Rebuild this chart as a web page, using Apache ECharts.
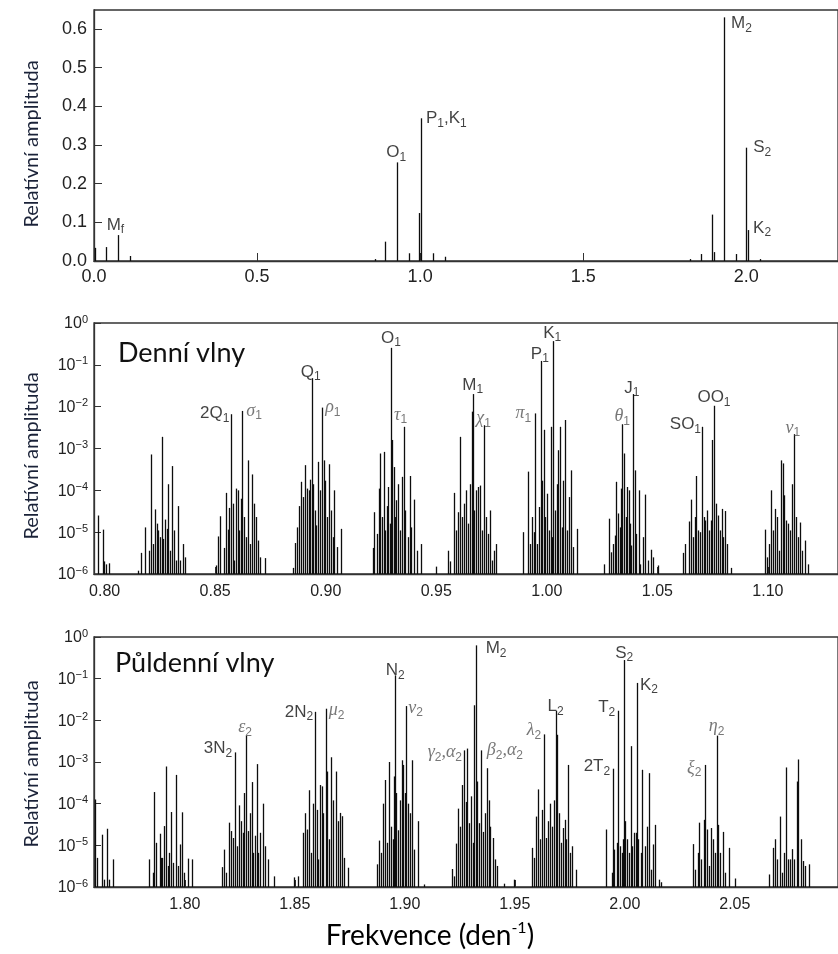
<!DOCTYPE html>
<html><head><meta charset="utf-8">
<script src="https://cdn.jsdelivr.net/npm/echarts@6/dist/echarts.min.js"></script>
<style>html,body{margin:0;padding:0;background:#fff}#c{width:838px;height:954px}</style>
</head><body><div id="c"></div><script>
// ---------- DATA ----------
// Top panel (linear amplitude)
const topFreq = [0.003,0.036,0.0725,0.109,0.861,0.893,0.9295,0.966,0.9973,1.0027,1.039,1.076,1.828,1.860,1.896,1.900,1.932,1.9685,2.000,2.0055,2.041];
const topAmp  = [0.034,0.036,0.067,0.013,0.005,0.05,0.255,0.02,0.124,0.369,0.02,0.011,0.005,0.018,0.12,0.023,0.63,0.018,0.293,0.08,0.005];
const topLabelText = ['M_f','O_1','P_1,K_1','M_2','S_2','K_2'];
const topLabelFreq = [0.0725,0.9295,1.0027,1.932,2.000,2.0055];
const topLabelAmp  = [0.067,0.255,0.369,0.63,0.293,0.08];
const topXTicks = [0,0.5,1.0,1.5,2.0];

// Middle panel: diurnal band (log amplitude)
const diurnalFreq = [
0.7970,0.7993,0.7997,0.8006,0.8021,
0.8152,0.8163,0.8181,0.8200,0.8209,0.8220,0.8229,0.8235,0.8241,0.8250,0.8259,0.8265,0.8274,0.8281,0.8286,0.8295,0.8306,0.8313,0.8322,0.8333,0.8340,0.8355,0.8363,
0.8504,0.8513,0.8522,0.8539,0.8548,0.8557,0.8563,0.8573,0.8581,0.8587,0.8594,0.8602,0.8609,0.8615,0.8623,0.8630,0.8638,0.8647,0.8656,0.8668,0.8675,0.8683,0.8693,0.8704,0.8725,
0.8850,0.8859,0.8868,0.8877,0.8887,0.8896,0.8905,0.8914,0.8923,0.8931,0.8937,0.8944,0.8950,0.8958,0.8966,0.8975,0.8984,0.8990,0.8999,0.9006,0.9015,0.9024,0.9032,0.9038,0.9050,0.9068,
0.9212,0.9220,0.9230,0.9239,0.9247,0.9256,0.9262,0.9269,0.9275,0.9283,0.9290,0.9295,0.9301,0.9308,0.9314,0.9320,0.9328,0.9335,0.9344,0.9352,0.9359,0.9370,0.9379,0.9388,0.9400,0.9411,0.9429,
0.9501,0.9555,0.9564,0.9580,0.9591,0.9600,0.9609,0.9618,0.9627,0.9635,0.9644,0.9653,0.9660,0.9665,0.9671,0.9680,0.9689,0.9698,0.9707,0.9714,0.9723,0.9732,0.9741,0.9752,0.9760,0.9769,
0.9892,0.9916,0.9926,0.9934,0.9941,0.9947,0.9955,0.9964,0.9973,0.9980,0.9988,0.9994,1.0001,1.0010,1.0018,1.0024,1.0029,1.0036,1.0044,1.0051,1.0059,1.0068,1.0075,1.0083,1.0090,1.0099,1.0110,1.0120,1.0135,
1.0257,1.0283,1.0290,1.0299,1.0307,1.0313,1.0322,1.0331,1.0337,1.0341,1.0349,1.0356,1.0362,1.0370,1.0377,1.0383,1.0389,1.0397,1.0404,1.0415,1.0423,1.0435,1.0445,1.0457,1.0472,1.0481,1.0501,
1.0616,1.0625,1.0645,1.0654,1.0662,1.0669,1.0677,1.0686,1.0693,1.0702,1.0710,1.0717,1.0726,1.0734,1.0741,1.0749,1.0756,1.0764,1.0773,1.0782,1.0791,1.0798,1.0807,1.0815,1.0833,
1.0986,1.0997,1.1006,1.1016,1.1025,1.1034,1.1043,1.1052,1.1061,1.1067,1.1075,1.1084,1.1093,1.1101,1.1110,1.1117,1.1126,1.1137,1.1146,1.1155,1.1168,1.1180];
const diurnalAmp = [
2.5e-5,1.15e-5,2.0e-6,1.7e-6,1.8e-6,
1.2e-6,3.2e-6,1.3e-5,3.6e-6,7.2e-4,5.2e-6,3.5e-5,1.6e-5,1.1e-5,7.6e-6,1.9e-3,6.9e-6,2.0e-5,1.2e-5,1.4e-4,3.6e-6,3.8e-4,1.1e-5,2.1e-6,4.2e-5,2.1e-6,5.2e-6,2.5e-6,
1.6e-6,7.9e-6,2.4e-5,4.2e-6,8.7e-5,1.15e-5,3.8e-5,6.6e-3,4.8e-5,2.1e-6,1.1e-4,1.0e-4,1.1e-5,6.3e-5,7.9e-3,2.3e-5,7.6e-6,5.2e-4,5.2e-6,2.4e-4,4.8e-5,2.3e-5,6.3e-6,2.5e-6,2.4e-6,
1.4e-6,5.5e-6,1.3e-5,4.2e-5,1.6e-4,6.9e-5,4.0e-4,1.1e-4,1.0e-4,1.8e-4,4.8e-2,1.4e-4,3.3e-5,1.45e-5,4.8e-4,1.0e-4,9.5e-3,5.2e-4,1.7e-4,2.3e-5,4.2e-4,3.3e-5,7.6e-6,1.0e-4,4.4e-6,1.2e-5,
4.2e-6,3.0e-5,9.1e-6,1.1e-4,7.6e-4,2.3e-5,8.3e-4,1.1e-5,4.2e-5,1.2e-4,1.6e-5,0.255,1.6e-3,3.6e-4,2.3e-5,5.8e-5,1.4e-4,1.1e-5,2.1e-4,3.3e-3,3.3e-5,7.6e-6,2.2e-4,1.3e-5,6.0e-5,3.6e-6,5.2e-6,
1.5e-6,3.6e-6,2.0e-6,8.7e-5,1.1e-5,3.0e-5,1.9e-3,2.3e-5,4.8e-5,1.0e-4,1.6e-5,1.4e-4,7.6e-3,2.0e-2,3.3e-5,1.0e-4,1.2e-4,1.3e-4,1.1e-5,3.6e-3,2.3e-5,9.1e-6,3.3e-5,2.1e-6,3.6e-6,5.2e-6,
1.0e-5,2.8e-4,5.2e-6,2.3e-5,1.0e-5,6.9e-3,5.2e-6,4.0e-5,0.124,1.7e-4,2.8e-3,2.3e-5,8.3e-5,1.1e-5,3.3e-3,7.6e-6,0.369,3.3e-5,1.4e-4,9.1e-4,3.3e-3,1.3e-5,1.7e-4,4.8e-3,1.1e-5,6.9e-5,3.0e-4,4.4e-6,1.2e-5,
1.7e-6,2.1e-5,3.3e-6,5.2e-6,8.3e-6,1.6e-4,2.8e-5,1.3e-5,1.1e-4,3.8e-3,7.6e-4,2.3e-5,1.2e-4,1.0e-4,1.6e-5,4.8e-6,2.0e-2,3.0e-4,9.1e-6,1.0e-4,1.7e-6,7.6e-6,7.9e-5,2.1e-6,3.8e-6,2.5e-6,1.6e-6,
3.2e-6,5.2e-6,1.8e-5,6.0e-5,7.6e-6,2.3e-5,2.2e-4,1.1e-5,1.0e-5,3.3e-3,2.3e-5,1.9e-5,3.3e-5,1.1e-5,1.9e-5,1.6e-3,1.05e-2,4.8e-5,2.5e-5,1.1e-5,3.6e-5,7.6e-6,3.2e-5,5.2e-6,1.4e-6,
1.15e-5,2.5e-6,5.2e-6,1.0e-4,1.1e-5,3.6e-5,2.3e-5,3.6e-6,5.2e-4,4.4e-4,7.6e-5,1.9e-5,1.6e-5,1.1e-5,1.4e-4,2.2e-3,2.3e-5,7.6e-6,1.7e-5,3.6e-6,6.3e-6,1.7e-6];
const diurnalLabelText = ['2Q_1','σ_1','Q_1','ρ_1','O_1','τ_1','M_1','χ_1','π_1','P_1','K_1','θ_1','J_1','SO_1','OO_1','ν_1'];
const diurnalLabelFreq = [0.8573,0.8623,0.8937,0.8984,0.9295,0.9352,0.9665,0.9714,0.9947,0.9973,1.0029,1.0341,1.0389,1.0702,1.0756,1.1117];
const diurnalLabelAmp  = [6.6e-3,7.9e-3,4.8e-2,9.5e-3,0.255,3.3e-3,2.0e-2,3.6e-3,6.9e-3,0.124,0.369,3.8e-3,2.0e-2,3.3e-3,1.05e-2,2.2e-3];

// Bottom panel: semidiurnal band (log amplitude)
const semiFreq = [
1.7592,1.7599,1.7625,1.7633,1.7648,1.7654,1.7673,
1.7837,1.7853,1.7862,1.7871,1.7885,1.7891,1.7898,1.7907,1.7915,1.7923,1.7930,1.7939,1.7947,1.7960,1.7968,1.7979,1.7988,1.7997,1.8016,1.8034,
1.8170,1.8178,1.8187,1.8199,1.8210,1.8219,1.8229,1.8237,1.8247,1.8255,1.8263,1.8270,1.8278,1.8285,1.8296,1.8303,1.8311,1.8318,1.8326,1.8334,1.8343,1.8355,1.8365,1.8377,1.8403,
1.8494,1.8513,1.8535,1.8544,1.8554,1.8565,1.8572,1.8581,1.8592,1.8600,1.8607,1.8615,1.8622,1.8630,1.8640,1.8648,1.8655,1.8666,1.8675,1.8687,1.8698,1.8705,1.8713,1.8725,1.8743,
1.8872,1.8881,1.8891,1.8900,1.8908,1.8917,1.8929,1.8937,1.8944,1.8950,1.8956,1.8962,1.8970,1.8977,1.8985,1.8993,1.9000,1.9006,1.9014,1.9023,1.9033,1.9042,1.9059,1.9089,
1.9215,1.9224,1.9234,1.9243,1.9252,1.9261,1.9269,1.9277,1.9284,1.9293,1.9301,1.9308,1.9314,1.9322,1.9329,1.9337,1.9345,1.9354,1.9363,1.9372,1.9381,1.9388,1.9399,1.9408,1.9419,1.9452,1.9496,
1.9577,1.9586,1.9597,1.9606,1.9615,1.9624,1.9633,1.9642,1.9651,1.9660,1.9668,1.9677,1.9685,1.9691,1.9700,1.9710,1.9718,1.9727,1.9734,1.9742,1.9749,1.9760,1.9778,
1.9914,1.9940,1.9947,1.9953,1.9963,1.9970,1.9978,1.9985,1.9991,1.9997,2.0003,2.0011,2.0018,2.0026,2.0034,2.0041,2.0049,2.0055,2.0062,2.0073,2.0080,2.0092,2.0102,2.0109,2.0117,2.0126,2.0136,2.0154,2.0165,
2.0310,2.0321,2.0331,2.0339,2.0348,2.0358,2.0366,2.0375,2.0384,2.0392,2.0399,2.0410,2.0417,2.0425,2.0434,2.0444,2.0455,2.0475,2.0500,
2.0656,2.0674,2.0683,2.0692,2.0704,2.0714,2.0723,2.0733,2.0742,2.0751,2.0760,2.0769,2.0781,2.0789,2.0801,2.0811,2.0821,2.0836];
const semiAmp = [
1.26e-4,5.0e-6,1.8e-5,1.5e-6,2.5e-5,1.5e-6,4.6e-6,
4.6e-6,2.2e-6,1.9e-4,1.15e-5,1.9e-5,5.0e-6,5.0e-6,2.9e-5,7.8e-4,3.2e-6,6.6e-6,6.3e-5,3.8e-6,4.9e-4,3.2e-6,1.05e-5,6.2e-5,2.2e-6,4.8e-6,4.6e-6,
3.0e-6,7.9e-6,2.2e-6,3.5e-5,2.2e-5,1.5e-5,1.7e-3,9.5e-6,9.1e-5,3.8e-5,2.0e-5,1.8e-4,4.3e-3,2.2e-5,5.9e-5,3.3e-4,6.6e-6,1.7e-5,8.9e-4,6.6e-6,2.0e-5,1.0e-4,9.5e-6,4.6e-6,1.8e-6,
1.7e-6,1.8e-6,2.0e-5,5.9e-5,2.4e-5,2.1e-4,6.6e-6,1.0e-4,1.6e-2,7.1e-5,4.6e-6,2.8e-4,2.6e-4,5.9e-5,1.9e-2,5.9e-4,1.4e-5,1.3e-3,1.2e-4,5.9e-4,3.8e-5,6.0e-5,5.0e-5,5.0e-6,2.9e-6,
3.5e-6,1.3e-5,6.6e-6,1.0e-4,3.7e-4,1.15e-5,1.0e-3,2.8e-5,1.4e-5,4.5e-4,0.12,1.8e-4,2.3e-5,1.2e-4,1.1e-3,8.5e-4,1.8e-4,2.2e-2,1.0e-4,5.9e-5,1.1e-3,7.9e-6,3.8e-5,1.15e-6,
2.7e-6,1.8e-6,1.1e-5,7.6e-5,2.8e-5,2.8e-4,1.9e-3,1.1e-4,2.1e-3,3.4e-5,1.5e-4,1.15e-5,2.3e-2,0.63,3.4e-4,3.4e-5,1.9e-3,2.1e-5,5.9e-5,7.1e-4,1.2e-4,2.8e-5,1.5e-5,4.6e-6,3.2e-6,1.2e-6,1.5e-6,
8.7e-6,5.0e-6,4.9e-5,2.2e-4,1.4e-5,7.1e-5,4.6e-3,1.5e-5,3.8e-5,1.0e-4,2.8e-5,1.2e-4,1.7e-2,4.5e-3,5.9e-5,1.15e-5,2.6e-5,4.1e-5,1.4e-5,8.5e-4,6.6e-6,9.5e-6,2.6e-6,
2.4e-5,2.2e-6,6.9e-4,7.9e-6,1.15e-5,1.7e-2,9.5e-6,6.6e-6,1.4e-5,0.28,3.8e-5,1.4e-5,6.6e-6,2.4e-3,9.5e-6,2.0e-5,2.0e-5,0.079,1.4e-5,6.6e-6,6.5e-4,9.5e-6,2.8e-5,5.4e-4,2.6e-6,1.05e-5,3.1e-5,1.5e-6,1.3e-6,
1.07e-5,2.6e-6,6.6e-6,3.5e-5,4.6e-6,4.1e-5,8.5e-4,2.4e-5,3.2e-6,2.6e-5,1.4e-5,6.6e-6,4.3e-3,3.1e-5,6.6e-6,2.1e-5,2.2e-6,8.7e-6,1.6e-6,
2.0e-6,8.7e-6,1.4e-5,4.6e-6,4.9e-5,2.2e-6,6.6e-6,7.4e-4,4.6e-6,4.6e-6,8.1e-6,4.6e-6,3.4e-4,1.15e-3,1.4e-5,4.2e-6,3.2e-6,3.5e-6];
const semiLabelText = ['3N_2','ε_2','2N_2','μ_2','N_2','ν_2','γ_2,α_2','β_2,α_2','M_2','λ_2','L_2','2T_2','T_2','S_2','K_2','ξ_2','η_2'];
const semiLabelFreq = [1.8229,1.8278,1.8592,1.8640,1.8956,1.9006,1.9269,1.9345,1.9322,1.9633,1.9685,1.9947,1.9970,1.9997,2.0055,2.0366,2.0417];
const semiLabelAmp  = [1.7e-3,4.3e-3,1.6e-2,1.9e-2,0.12,2.2e-2,1.9e-3,1.9e-3,0.63,4.6e-3,1.7e-2,6.9e-4,1.7e-2,0.28,0.079,8.5e-4,4.3e-3];

// ---------- LABEL PLACEMENT (styling, px offsets from line top) ----------
const topLabelLayout = [['left',-11,-10],['center',-1,-10],['left',5,0],['left',7,6],['left',7,0],['left',5,-2]];
const diurnalLabelLayout = [['right',-2,-1],['left',4,0],['center',-1,-6],['left',3,0],['center',0,-10],['center',-3,-12],['center',0,-9],['center',0,-7],['right',-4,0],['center',-1,-7],['center',-1,-8],['center',0,-8],['center',-1,-6],['right',-1,-2],['center',0,-8],['center',-1,-6]];
const semiLabelLayout = [['right',-3,-4],['center',-1,-8],['right',-2,0],['left',3,2],['center',0,-5],['left',2,2],['right',-2,2],['left',6,0],['left',10,3],['right',-3,-4],['center',0,-4],['right',-3,-2],['right',-3,-3],['center',0,-7],['left',3,2],['right',-4,3],['center',0,-9]];

// ---------- CHART ----------
const chart = echarts.init(document.getElementById('c'), null, {renderer:'canvas'});
const SANS = 'Liberation Sans';
const AX = '#333';
const RICH = {
  n:{fontFamily:SANS,fontSize:17,color:'#111',lineHeight:18},
  s:{fontFamily:SANS,fontSize:12,color:'#111',padding:[10,0,0,0]},
  g:{fontFamily:'Liberation Serif',fontStyle:'italic',fontSize:18,color:'#555',lineHeight:18},
  gs:{fontFamily:SANS,fontSize:12,color:'#555',padding:[10,0,0,0]}
};
function toRich(t){
  const greek = /[\u0370-\u03FF]/.test(t);
  const m = greek?'g':'n', s = greek?'gs':'s';
  return t.split(/_(\w)/).map((p,k)=>p===''?'':'{'+(k%2?s:m)+'|'+p+'}').join('');
}
function stems(gi, freqs, amps, base){
  return {type:'custom', xAxisIndex:gi, yAxisIndex:gi, clip:true, silent:true, z:3,
    data: freqs.map((f,i)=>[f,amps[i]]),
    renderItem:(params, api)=>{
      const p1 = api.coord([api.value(0), base]);
      const p2 = api.coord([api.value(0), api.value(1)]);
      const x = Math.round(p2[0]) + 0.5;
      return {type:'line', shape:{x1:x,y1:p1[1],x2:x,y2:p2[1]}, style:{stroke:'#0d0d0d', lineWidth:1.3}};
    }};
}
function labels(gi, texts, freqs, amps, layout){
  return {type:'scatter', xAxisIndex:gi, yAxisIndex:gi, symbolSize:1, silent:true, z:5,
    itemStyle:{color:'rgba(0,0,0,0)'},
    data: texts.map((t,i)=>({value:[freqs[i],amps[i]],
      label:{show:true, position:'inside', formatter:()=>toRich(t), align:layout[i][0], verticalAlign:'middle',
             offset:[layout[i][1], layout[i][2]], rich:RICH}}))};
}
const tickLbl = {fontFamily:SANS, fontSize:16, color:'#222'};
function xAx(gi, min, max, extra){
  return Object.assign({gridIndex:gi, type:'value', min:min, max:max,
    axisLine:{show:true,lineStyle:{color:AX,width:1.3}},
    axisTick:{show:true,inside:true,length:7,lineStyle:{color:AX}},
    splitLine:{show:false}}, extra);
}
function logY(gi){
  return {gridIndex:gi, type:'log', logBase:10, min:1e-6, max:1, splitNumber:6,
    axisLine:{show:true,lineStyle:{color:AX,width:1.3}},
    axisTick:{show:true,inside:true,length:7,lineStyle:{color:AX}},
    minorTick:{show:false}, splitLine:{show:false},
    axisLabel:{margin:6, formatter:v=>{const e=Math.round(Math.log10(v)); return '{b|10}{s|'+(e===0?'0':'\u2212'+(-e))+'}';},
      rich:{b:{fontFamily:SANS,fontSize:16,color:'#222',lineHeight:18,verticalAlign:'bottom'},
            s:{fontFamily:SANS,fontSize:11,color:'#222',lineHeight:11,verticalAlign:'top'}}}};
}
const gridBox = {show:true, borderColor:AX, borderWidth:1.3, backgroundColor:'transparent'};
const nameStyle = {font:'20px Lato', fill:'#1a2238', align:'center', verticalAlign:'middle'};
chart.setOption({
  animation:false,
  backgroundColor:'#fff',
  grid:[
    Object.assign({left:94, top:10, width:746, height:251}, gridBox),
    Object.assign({left:94, top:323, width:746, height:251}, gridBox),
    Object.assign({left:94, top:637, width:746, height:250}, gridBox)
  ],
  xAxis:[
    xAx(0, topXTicks[0], 2.2813, {interval:0.5, axisTick:{show:true,inside:true,length:8,lineStyle:{color:AX}},
      axisLabel:{showMaxLabel:false, margin:7, formatter:v=>v.toFixed(1), fontFamily:SANS, fontSize:18, color:'#222'}}),
    xAx(1, 0.7952, 1.1317, {splitNumber:7, axisLabel:Object.assign({showMinLabel:false, showMaxLabel:false, margin:10, formatter:v=>v.toFixed(2)}, tickLbl)}),
    xAx(2, 1.7587, 2.0969, {splitNumber:7, axisLabel:Object.assign({showMinLabel:false, showMaxLabel:false, margin:10, formatter:v=>v.toFixed(2)}, tickLbl)})
  ],
  yAxis:[
    {gridIndex:0, type:'value', min:0, max:0.649, interval:0.1,
      axisLine:{show:true,lineStyle:{color:AX,width:1.3}},
      axisTick:{show:true,inside:true,length:8,lineStyle:{color:AX}}, splitLine:{show:false},
      axisLabel:{showMaxLabel:false, margin:7, formatter:v=>v.toFixed(1), fontFamily:SANS, fontSize:18, color:'#222'}},
    logY(1), logY(2)
  ],
  series:[
    stems(0, topFreq, topAmp, 0),
    labels(0, topLabelText, topLabelFreq, topLabelAmp, topLabelLayout),
    stems(1, diurnalFreq, diurnalAmp, 1e-6),
    labels(1, diurnalLabelText, diurnalLabelFreq, diurnalLabelAmp, diurnalLabelLayout),
    stems(2, semiFreq, semiAmp, 1e-6),
    labels(2, semiLabelText, semiLabelFreq, semiLabelAmp, semiLabelLayout)
  ],
  graphic:[
    {type:'text', x:32, y:144, rotation:Math.PI/2, style:Object.assign({text:'Relatívní amplituda'}, nameStyle)},
    {type:'text', x:32, y:456, rotation:Math.PI/2, style:Object.assign({text:'Relatívní amplituda'}, nameStyle)},
    {type:'text', x:32, y:764, rotation:Math.PI/2, style:Object.assign({text:'Relatívní amplituda'}, nameStyle)},
    {type:'text', x:118, y:353, style:{text:'Denní vlny', font:'27px Lato', fill:'#111', align:'left', verticalAlign:'middle'}},
    {type:'text', x:115, y:663, style:{text:'Půldenní vlny', font:'27px Lato', fill:'#111', align:'left', verticalAlign:'middle'}},
    {type:'text', x:430, y:935, style:{text:'{a|Frekvence (den}{s|-1}{a|)}', align:'center', verticalAlign:'middle',
      rich:{a:{fontFamily:'Lato',fontSize:28,color:'#111',lineHeight:30,verticalAlign:'bottom'},
            s:{fontFamily:'Lato',fontSize:16,color:'#111',lineHeight:15,verticalAlign:'top'}}}}
  ]
});
</script></body></html>
